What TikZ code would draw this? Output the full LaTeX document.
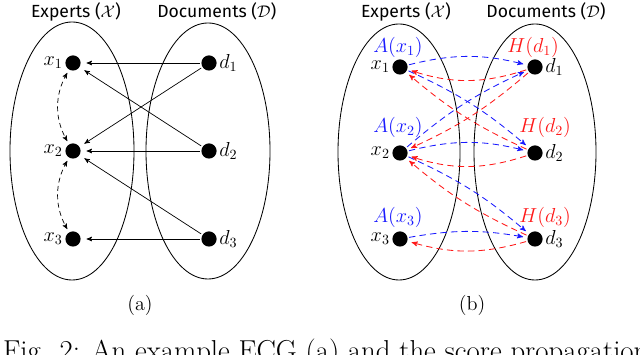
\documentclass[tikz,border=0pt]{standalone}
\usepackage{fontspec}
\newfontfamily\titlefont{Fira Sans}
\usepackage{xcolor}
\definecolor{authBlue}{RGB}{25,25,255}
\definecolor{hubRed}{RGB}{255,25,25}
\usepackage{amsmath,amssymb}
\usepackage{tikz}
\usetikzlibrary{arrows,shapes,positioning,calc}
\tikzstyle{dotnode}=[circle, fill=black, inner sep=0pt, minimum size=0.38cm]
\tikzstyle{ptlabel}=[font=\Large, inner sep=1.5pt]
\tikzstyle{settitle}=[font=\titlefont\fontsize{12.5}{15}\selectfont]
\tikzstyle{setoval}=[line width=0.6pt]
\tikzstyle{scorelabel}=[font=\Large]
\tikzstyle{linkarrowstyle}=[->, >=stealth', line width=0.5pt, shorten >=4pt, shorten <=1pt]
\tikzstyle{simarrowstyle}=[<->, >=stealth', dash pattern=on 3.5pt off 2.5pt, line width=0.5pt, shorten >=2.5pt, shorten <=2.5pt]
\tikzstyle{autharrowstyle}=[->, >=stealth', dash pattern=on 4.5pt off 3pt, line width=0.6pt, color=authBlue, shorten >=3pt, shorten <=1pt]
\tikzstyle{hubarrowstyle}=[->, >=stealth', dash pattern=on 4.5pt off 3pt, line width=0.6pt, color=hubRed, shorten >=3pt, shorten <=1pt]

\begin{document}
\begin{tikzpicture}
    \useasboundingbox (0,0) rectangle (16,8.875);

    % (a): conjuntos e citacoes
    \draw[setoval] (1.8,5.1) ellipse (1.55 and 3.225);
    \draw[setoval] (5.2,5.1) ellipse (1.55 and 3.2);
    \node[settitle] (expa) at (1.9,8.58) {Experts ($\mathcal{X}$)};
    \node[settitle] (doca) at (5.42,8.58) {Documents ($\mathcal{D}$)};
    \foreach \i/\y in {1/7.3,2/5.1,3/2.9} {
      \node[dotnode, label={[ptlabel]left:$x_\i$}] (xa\i) at (1.825,\y) {};
      \node[dotnode, label={[ptlabel]right:$d_\i$}] (da\i) at (5.225,\y) {};
    }
    \foreach \d/\x in {1/1,1/2,2/1,2/2,3/2,3/3} {
      \draw[linkarrowstyle] (da\d) -- (xa\x);
    }
    \draw[simarrowstyle] (xa1) to[bend right=30] (xa2);
    \draw[simarrowstyle] (xa2) to[bend right=30] (xa3);
    \node[font=\Large] (capa) at (3.5,1.25) {(a)};

    % (b): propagacao dos escores
    \draw[setoval] (9.975,5.075) ellipse (1.525 and 3.2);
    \draw[setoval] (13.375,5.075) ellipse (1.525 and 3.2);
    \node[settitle] (expb) at (10.15,8.58) {Experts ($\mathcal{X}$)};
    \node[settitle] (docb) at (13.65,8.58) {Documents ($\mathcal{D}$)};
    \foreach \i/\y in {1/7.2,2/5.05,3/2.9} {
      \node[dotnode, label={[ptlabel]left:$x_\i$}] (xb\i) at (10.0,\y) {};
      \node[dotnode, label={[ptlabel]right:$d_\i$}] (db\i) at (13.375,\y) {};
    }
    \node[scorelabel, authBlue] (ax1) at (9.95,7.7) {$A(x_1)$};
    \node[scorelabel, authBlue] (ax2) at (9.95,5.7) {$A(x_2)$};
    \node[scorelabel, authBlue] (ax3) at (9.95,3.45) {$A(x_3)$};
    \node[scorelabel, hubRed] (hd1) at (13.33,7.7) {$H(d_1)$};
    \node[scorelabel, hubRed] (hd2) at (13.63,5.7) {$H(d_2)$};
    \node[scorelabel, hubRed] (hd3) at (13.63,3.45) {$H(d_3)$};
    \foreach \x/\d/\b in {1/1/14,1/2/8,2/1/8,2/2/14,2/3/8,3/3/10} {
      \draw[autharrowstyle] (xb\x) to[bend left=\b] (db\d);
    }
    \foreach \d/\x/\b in {1/1/18,2/1/8,1/2/8,2/2/18,3/2/8,3/3/16} {
      \draw[hubarrowstyle] (db\d) to[bend left=\b] (xb\x);
    }
    \node[font=\Large] (capb) at (11.8,1.25) {(b)};

    % legenda (cortada na borda)
    \node[font=\fontsize{20.5}{24}\selectfont, anchor=base west, inner sep=0pt] (figcap) at (0.07,-0.15) {Fig. 2: An example ECG (a) and the score propagation};
\end{tikzpicture}
\end{document}
